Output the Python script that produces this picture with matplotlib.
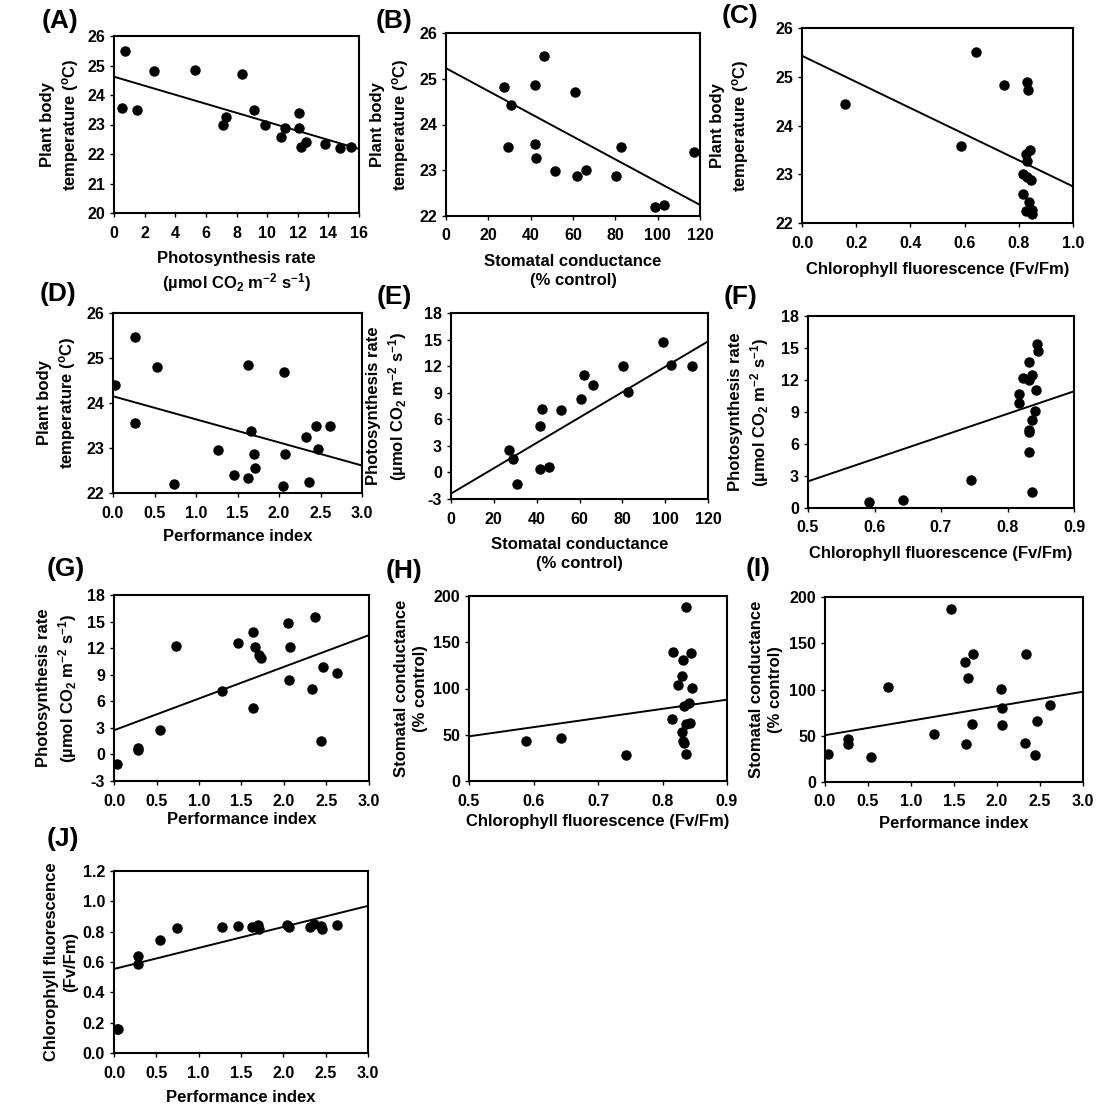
import matplotlib
matplotlib.use('Agg')
import matplotlib.pyplot as plt
from matplotlib.ticker import FormatStrFormatter
import numpy as np

plt.rcParams['font.family'] = ['Liberation Sans', 'DejaVu Sans']
plt.rcParams['font.weight'] = 'bold'
plt.rcParams['axes.labelweight'] = 'bold'
plt.rcParams['mathtext.fontset'] = 'custom'
plt.rcParams['mathtext.rm'] = 'Liberation Sans:bold'
plt.rcParams['mathtext.default'] = 'rm'

# ---- data ----
# (A) photosynthesis rate vs plant body temperature
a_x = [0.54, 0.70, 1.50, 2.59, 5.29, 7.12, 7.34, 8.37, 9.14, 9.88, 10.93, 11.14,
       12.08, 12.08, 12.23, 12.56, 13.76, 14.78, 15.45]
a_y = [23.57, 25.48, 23.49, 24.80, 24.85, 22.98, 23.26, 24.71, 23.49, 22.99, 22.56, 22.89,
       23.38, 22.89, 22.23, 22.42, 22.33, 22.20, 22.25]
a_fit = (24.62, -0.153)

# (B) stomatal conductance vs temperature
b_x = [27.6, 29.4, 30.7, 41.9, 41.9, 42.7, 46.1, 51.5, 60.9, 62.0, 66.1, 80.3,
       82.5, 98.9, 102.8, 117.3]
b_y = [24.82, 23.51, 24.42, 24.87, 23.57, 23.27, 25.49, 22.99, 24.72, 22.88, 23.01, 22.88,
       23.50, 22.20, 22.23, 23.39]
b_fit = (25.23, -0.0249)

# (C) Fv/Fm vs temperature
c_x = [0.160, 0.585, 0.642, 0.745, 0.831, 0.834, 0.840, 0.828, 0.831, 0.816, 0.831,
       0.844, 0.816, 0.838, 0.826, 0.847, 0.849]
c_y = [24.44, 23.58, 25.50, 24.83, 24.90, 24.73, 23.50, 23.42, 23.28, 23.00, 22.95,
       22.88, 22.59, 22.43, 22.25, 22.26, 22.18]
c_fit = (25.43, -2.68)

# (D) performance index vs temperature
d_x = [0.03, 0.27, 0.27, 0.53, 0.73, 1.26, 1.46, 1.63, 1.63, 1.66, 1.70, 1.71,
       2.06, 2.05, 2.07, 2.33, 2.36, 2.45, 2.47, 2.62]
d_y = [24.41, 25.47, 23.56, 24.79, 22.20, 22.95, 22.41, 24.84, 22.33, 23.38, 22.87, 22.56,
       24.70, 22.16, 22.87, 23.24, 22.24, 23.48, 22.97, 23.48]
d_fit = (24.15, -0.513)

# (E) stomatal conductance vs photosynthesis rate
e_x = [27.2, 29.1, 30.6, 41.5, 42.3, 41.7, 45.9, 51.5, 60.8, 61.9, 66.1, 80.2,
       82.5, 99.0, 102.9, 112.7]
e_y = [2.48, 1.46, -1.26, 5.20, 7.16, 0.40, 0.59, 7.01, 8.29, 11.01, 9.84, 11.99,
       9.09, 14.68, 12.11, 12.00]
e_fit = (-2.39, 0.1432)

# (F) Fv/Fm vs photosynthesis rate
f_x = [0.591, 0.643, 0.745, 0.817, 0.817, 0.824, 0.833, 0.833, 0.837, 0.843, 0.842,
       0.837, 0.833, 0.833, 0.833, 0.837, 0.845, 0.846]
f_y = [0.56, 0.72, 2.59, 10.72, 9.81, 12.19, 13.66, 12.03, 12.44, 11.09, 9.09,
       8.28, 7.34, 7.09, 5.25, 1.53, 15.41, 14.72]
f_fit = (-8.05, 21.1)

# (G) performance index vs photosynthesis rate
g_x = [0.04, 0.28, 0.28, 0.54, 0.73, 1.27, 1.46, 1.64, 1.66, 1.64, 1.71, 1.73,
       2.05, 2.07, 2.06, 2.36, 2.33, 2.44, 2.46, 2.62]
g_y = [-1.12, 0.47, 0.74, 2.73, 12.27, 7.18, 12.53, 13.78, 12.08, 5.29, 11.21, 10.91,
       14.80, 12.08, 8.38, 15.47, 7.37, 1.56, 9.89, 9.14]
g_fit = (2.73, 3.58)

# (H) Fv/Fm vs stomatal conductance
h_x = [0.589, 0.642, 0.743, 0.815, 0.817, 0.824, 0.830, 0.832, 0.844, 0.836, 0.845,
       0.833, 0.841, 0.836, 0.842, 0.831, 0.832, 0.833, 0.836]
h_y = [42.9, 46.5, 27.7, 66.7, 139.1, 103.8, 113.5, 130.8, 138.4, 188.1, 100.2,
       80.7, 84.0, 62.0, 62.7, 53.0, 42.9, 41.4, 29.2]
h_fit = (-1.2, 99.0)

# (I) performance index vs stomatal conductance
i_x = [0.04, 0.27, 0.27, 0.53, 0.73, 1.27, 1.46, 1.63, 1.66, 1.72, 1.64, 1.71,
       2.05, 2.06, 2.06, 2.34, 2.32, 2.44, 2.46, 2.62]
i_y = [30.0, 46.3, 41.6, 26.8, 103.1, 51.4, 187.0, 130.0, 112.8, 138.5, 41.2, 62.2,
       100.2, 80.3, 61.1, 138.2, 42.3, 28.9, 66.2, 82.8]
i_fit = (50.6, 15.67)

# (J) performance index vs Fv/Fm
j_x = [0.03, 0.05, 0.28, 0.28, 0.54, 0.74, 1.27, 1.47, 1.63, 1.70, 1.71, 2.04,
       2.07, 2.32, 2.36, 2.44, 2.46, 2.63]
j_y = [0.160, 0.160, 0.639, 0.587, 0.742, 0.825, 0.832, 0.836, 0.832, 0.843, 0.817, 0.843,
       0.832, 0.832, 0.852, 0.836, 0.815, 0.843]
j_fit = (0.554, 0.1387)

temp_lab = 'Plant body\ntemperature ($^{o}$C)'
photo_lab = 'Photosynthesis rate\n(\u00b5mol CO$_2$ m$^{-2}$ s$^{-1}$)'
stom_lab = 'Stomatal conductance\n(% control)'
chl_lab = 'Chlorophyll fluorescence (Fv/Fm)'
chl_lab2 = 'Chlorophyll fluorescence\n(Fv/Fm)'
pi_lab = 'Performance index'

pi_ticks = [0.0, 0.5, 1.0, 1.5, 2.0, 2.5, 3.0]

# letter, data, fit, xlim, xticks, xfmt, ylim, yticks, yfmt, xlabel, ylabel
panels = [
    ('(A)', a_x, a_y, a_fit, (0, 16), range(0, 17, 2), '%d', (20, 26), range(20, 27), '%d', photo_lab, temp_lab),
    ('(B)', b_x, b_y, b_fit, (0, 120), range(0, 121, 20), '%d', (22, 26), range(22, 27), '%d', stom_lab, temp_lab),
    ('(C)', c_x, c_y, c_fit, (0, 1), [0, .2, .4, .6, .8, 1.0], '%.1f', (22, 26), range(22, 27), '%d', chl_lab, temp_lab),
    ('(D)', d_x, d_y, d_fit, (0, 3), pi_ticks, '%.1f', (22, 26), range(22, 27), '%d', pi_lab, temp_lab),
    ('(E)', e_x, e_y, e_fit, (0, 120), range(0, 121, 20), '%d', (-3, 18), range(-3, 19, 3), '%d', stom_lab, photo_lab),
    ('(F)', f_x, f_y, f_fit, (0.5, 0.9), [.5, .6, .7, .8, .9], '%.1f', (0, 18), range(0, 19, 3), '%d', chl_lab, photo_lab),
    ('(G)', g_x, g_y, g_fit, (0, 3), pi_ticks, '%.1f', (-3, 18), range(-3, 19, 3), '%d', pi_lab, photo_lab),
    ('(H)', h_x, h_y, h_fit, (0.5, 0.9), [.5, .6, .7, .8, .9], '%.1f', (0, 200), range(0, 201, 50), '%d', chl_lab, stom_lab),
    ('(I)', i_x, i_y, i_fit, (0, 3), pi_ticks, '%.1f', (0, 200), range(0, 201, 50), '%d', pi_lab, stom_lab),
    ('(J)', j_x, j_y, j_fit, (0, 3), pi_ticks, '%.1f', (0, 1.2), [0, .2, .4, .6, .8, 1.0, 1.2], '%.1f', pi_lab, chl_lab2),
]

# layout in pixels: axes box (l, t, r, b), letter (x, y), xlabel top, ylabel right edge
W, H = 1106, 1120
boxes = [(114, 36, 359, 213), (446, 33, 700, 216), (802, 28, 1073, 223),
         (113, 313, 362, 493), (451, 313, 708, 499), (808, 316, 1074, 508),
         (114, 595, 369, 781), (469, 596, 727, 781), (825, 597, 1083, 782),
         (114, 871, 368, 1053)]
letter_pos = [(42, 9), (376, 9), (722, 4), (40, 282), (377, 285), (724, 285),
              (47, 557), (386, 559), (746, 557), (47, 827)]
xlab_top = [251, 254, 262, 529, 537, 546, 812, 814, 816, 1090]
ylab_right = [81, 411, 751, 78, 409, 771, 79, 428, 783, 78]

fig = plt.figure(figsize=(W / 100, H / 100), dpi=100)

for k, p in enumerate(panels):
    letter, x, y, fit, xlim, xt, xf, ylim, yt, yf, xl, yl = p
    l, t, r, b = boxes[k]
    ax = fig.add_axes([l / W, 1 - b / H, (r - l) / W, (b - t) / H])
    ax.plot(x, y, 'o', color='black', ms=6.5)
    xs = np.array(xlim, dtype=float)
    ax.plot(xs, fit[0] + fit[1] * xs, color='black', lw=1.4)
    ax.set_xlim(xlim)
    ax.set_ylim(ylim)
    ax.set_xticks(list(xt))
    ax.set_yticks(list(yt))
    ax.xaxis.set_major_formatter(FormatStrFormatter(xf))
    ax.yaxis.set_major_formatter(FormatStrFormatter(yf))
    ax.tick_params(direction='out', length=3, width=1, labelsize=11.5)
    ax.tick_params(axis='x', pad=6)
    for s in ax.spines.values():
        s.set_linewidth(1.5)
    ax.set_xlabel(xl, fontsize=12, linespacing=1.3)
    ax.set_ylabel(yl, fontsize=12, linespacing=1.3)
    ax.xaxis.set_label_coords(0.5, (b - xlab_top[k]) / (b - t))
    ax.yaxis.set_label_coords((ylab_right[k] - l) / (r - l), 0.5)
    lx, ly = letter_pos[k]
    fig.text(lx / W, 1 - ly / H, letter, fontsize=19, fontweight='bold', va='top', ha='left')

plt.savefig('out.png', dpi=100)
